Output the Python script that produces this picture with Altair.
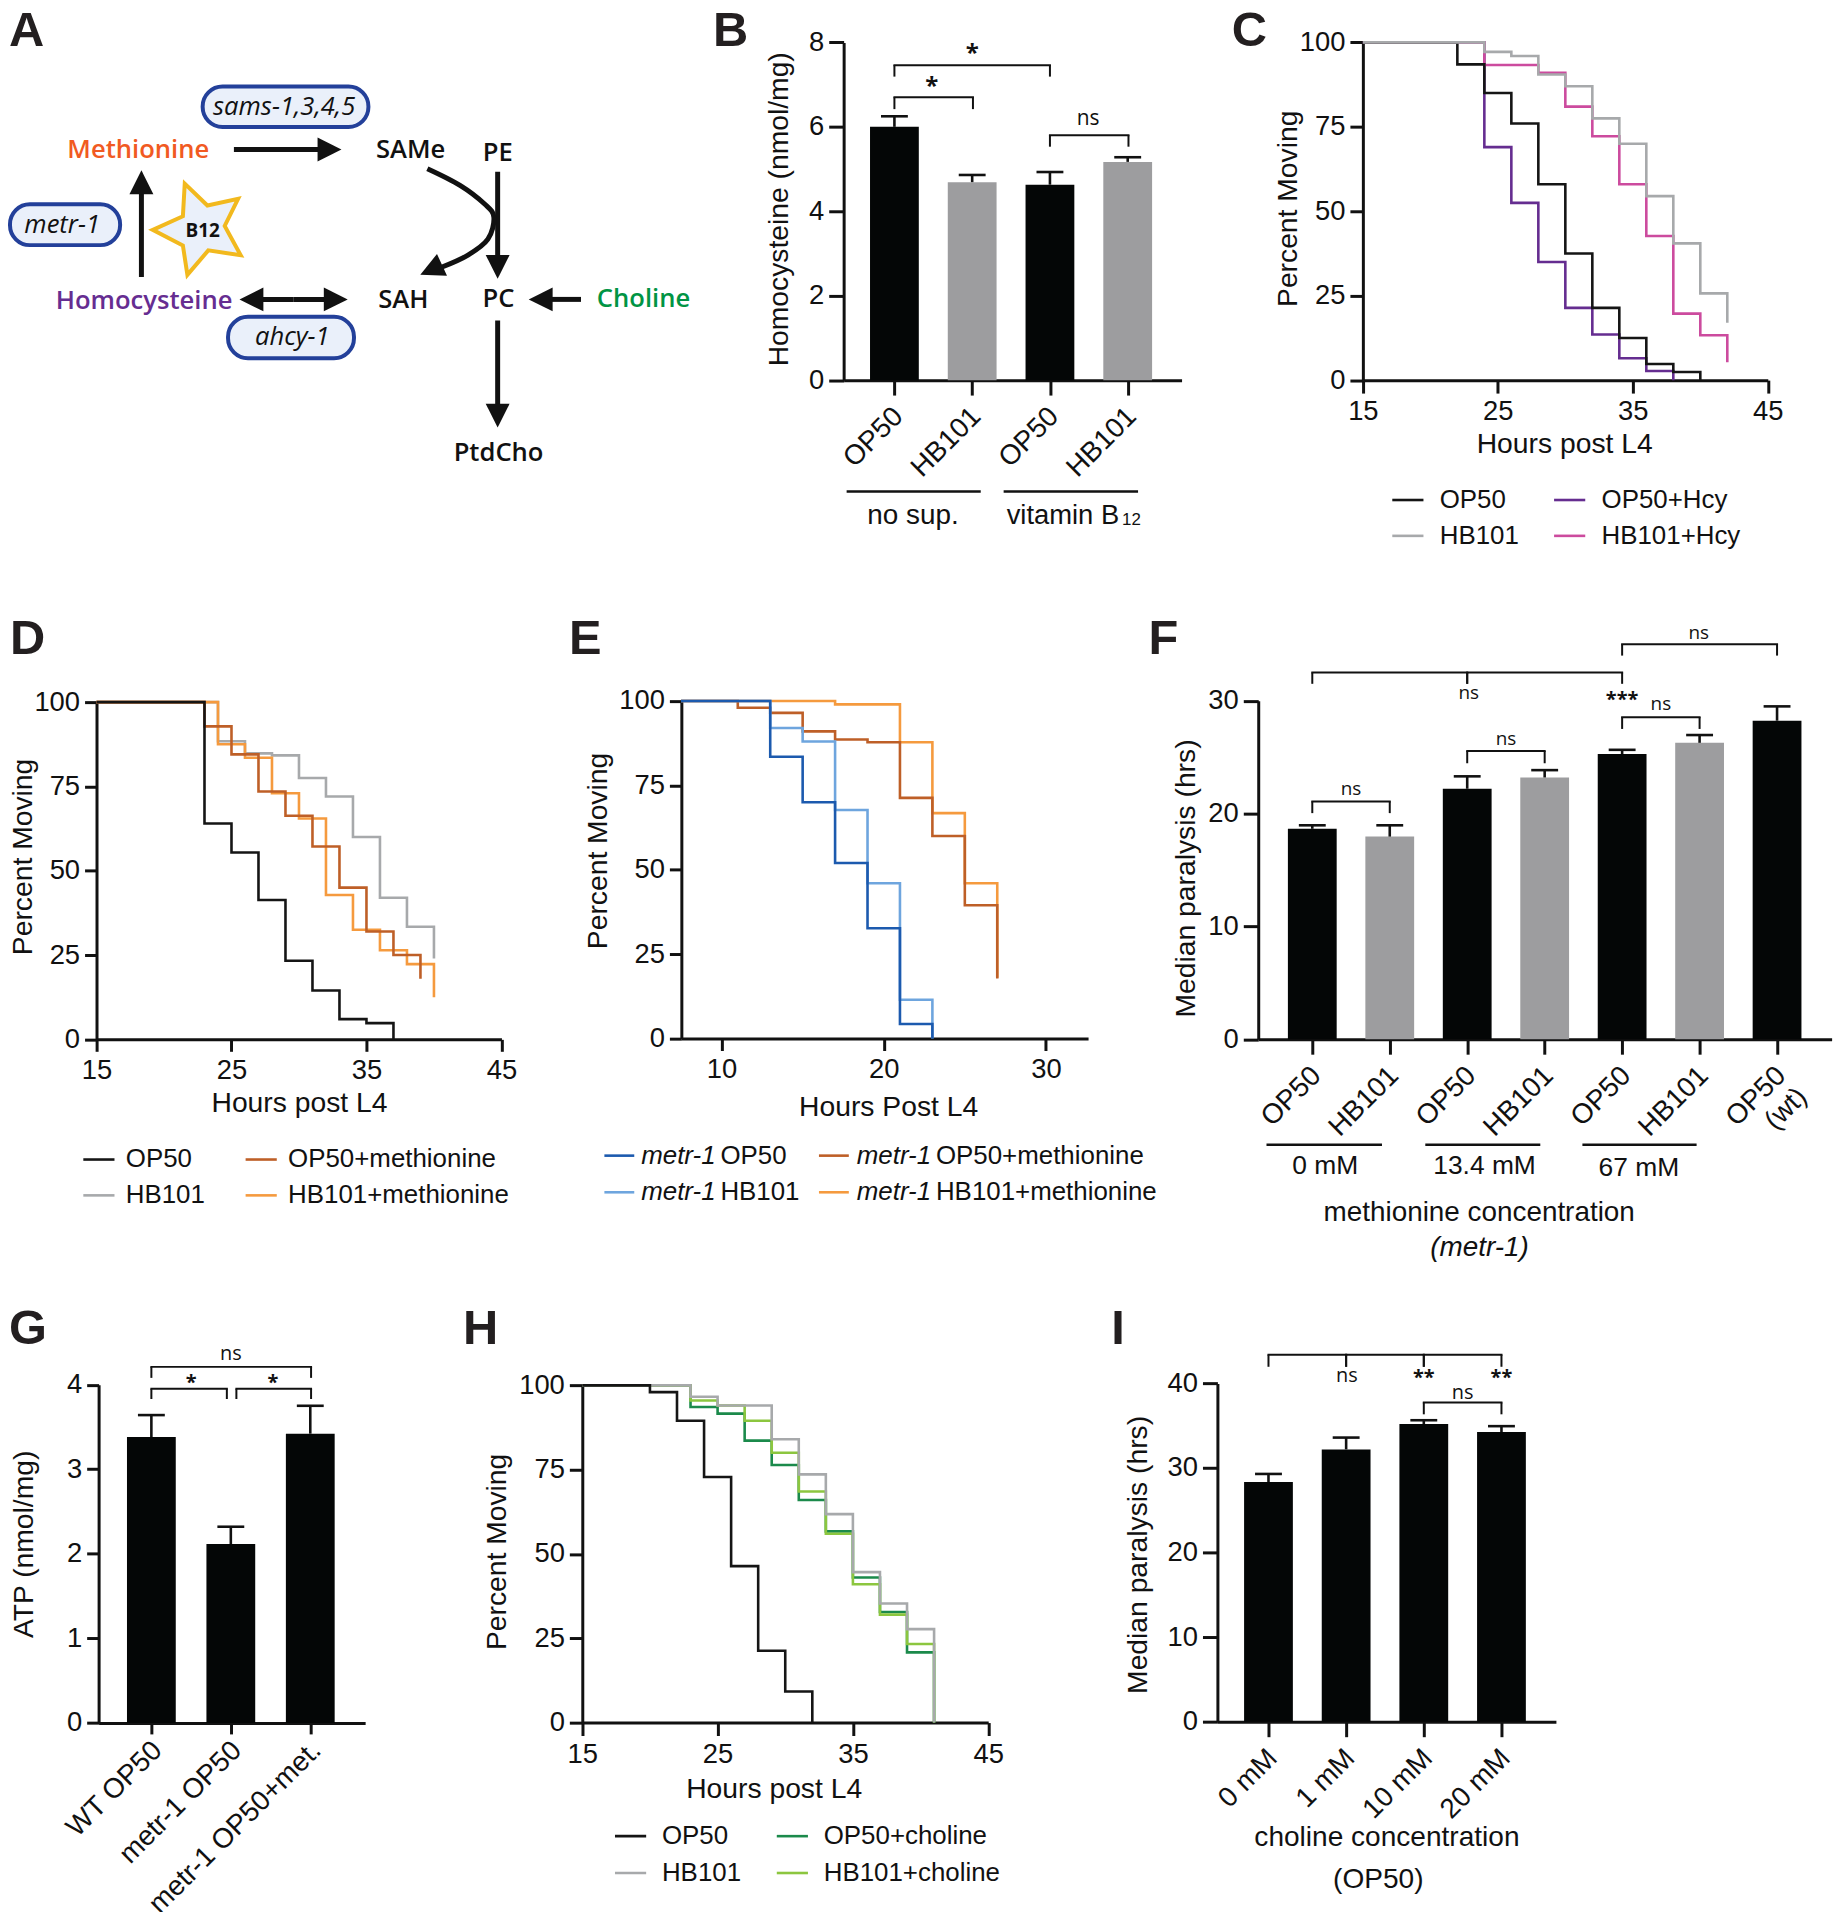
import math
import altair as alt
import pandas as pd

W, H = 1835, 1904
YOFF = 12  # the plot's top edge on the page
ARIAL = "Liberation Sans"
MYRIAD = "Open Sans"
INK = "#111111"

# ---------- panel B ----------
B_LABELS = [["OP50"], ["HB101"], ["OP50"], ["HB101"]]
B_STRAIN = ["OP50", "HB101", "OP50", "HB101"]
B_MEAN = [6.0, 4.69, 4.63, 5.17]
B_ERR = [6.25, 4.86, 4.93, 5.28]
B_BRACKETS = [(0, 2, 7.46, 7.19, 7.19), (0, 1.01, 6.7, 6.42, 6.42), (2, 3.01, 5.8, 5.53, 5.53)]
B_MARKS = [(1.0, 7.72, "*"), (0.48, 6.94, "*"), (2.49, 6.19, "ns")]

# ---------- panel C ----------
C_OP50 = [(15, 100), (22, 93.5), (24, 85), (26, 76), (28, 58), (30, 37.5), (32, 21.4), (34, 12.5), (36, 4.8), (38, 2.4), (40, 0)]
C_HB101 = [(15, 100), (24, 97.2), (26, 96), (28, 90.5), (30, 87), (32, 77.5), (34, 70), (36, 54.5), (38, 40.5), (40, 25.7), (42, 25.7), (42, 17)]
C_OP50_HCY = [(15, 100), (24, 69), (26, 52.5), (28, 35), (30, 21.4), (32, 13.5), (34, 6.5), (36, 2.7), (38, 0)]
C_HB101_HCY = [(15, 100), (24, 93.3), (28, 91), (30, 81), (32, 72.2), (34, 58), (36, 42.7), (38, 19.7), (40, 13.3), (42, 13.3), (42, 5.3)]

# ---------- panel D ----------
D_OP50 = [(15, 100), (23, 64), (25, 55.4), (27, 41.3), (29, 23.3), (31, 14.5), (33, 6), (35, 4.8), (37, 0)]
D_HB101 = [(15, 100), (24, 88.4), (26, 84.8), (28, 84.2), (30, 77.5), (32, 72), (34, 60), (36, 42), (38, 33.4), (40, 33.4), (40, 24)]
D_OP50_MET = [(15, 100), (23, 92.8), (25, 84.5), (27, 73.5), (29, 66.3), (31, 57.2), (33, 45), (35, 32), (37, 25), (39, 25), (39, 18)]
D_HB101_MET = [(15, 100), (24, 87.5), (26, 83.5), (28, 73), (30, 65.5), (32, 42.8), (34, 32.5), (36, 26.4), (38, 22.3), (40, 22.3), (40, 12.5)]

# ---------- panel E ----------
E_OP50 = [(7.5, 100), (13, 83.5), (15, 70), (17, 52), (19, 32.7), (21, 4.3), (23, 0)]
E_HB101 = [(7.5, 100), (13, 92), (15, 88), (17, 67.7), (19, 46), (21, 11.5), (23, 0)]
E_OP50_MET = [(7.5, 100), (11, 98), (13, 96.5), (15, 91), (17, 88.6), (19, 87.8), (21, 71.3), (23, 60), (25, 39.5), (27, 39.5), (27, 17.8)]
E_HB101_MET = [(7.5, 100), (17, 99), (21, 87.8), (23, 66.8), (25, 46), (27, 46), (27, 18)]

# ---------- panel F ----------
F_LABELS = [["OP50"], ["HB101"], ["OP50"], ["HB101"], ["OP50"], ["HB101"], ["OP50", "(wt)"]]
F_STRAIN = ["OP50", "HB101", "OP50", "HB101", "OP50", "HB101", "OP50"]
F_MEAN = [18.65, 17.96, 22.2, 23.2, 25.27, 26.27, 28.23]
F_ERR = [18.96, 18.96, 23.3, 23.85, 25.65, 26.96, 29.5]
F_BRACKETS = [(4, 6, 35, 34, 34), (0, 4, 32.5, 31.5, 31.5), (2, 2, 32.5, 31.5, 31.5), (4, 5, 28.54, 27.5, 27.5), (2, 3, 25.54, 24.46, 24.46), (0, 1, 21.08, 20.04, 20.04)]
F_MARKS = [(4.99, 36, "ns"), (2.02, 30.65, "ns"), (4.0, 30.1, "***"), (4.5, 29.7, "ns"), (2.5, 26.6, "ns"), (0.5, 22.2, "ns")]

# ---------- panel G ----------
G_LABELS = [["WT OP50"], ["metr-1 OP50"], ["metr-1 OP50+met."]]
G_STRAIN = ["OP50", "OP50", "OP50"]
G_MEAN = [3.38, 2.115, 3.42]
G_ERR = [3.64, 2.32, 3.75]
G_BRACKETS = [(0, 2.01, 4.21, 4.08, 4.08), (0, 0.95, 3.95, 3.83, 3.83), (1.07, 2.01, 3.95, 3.83, 3.83)]
G_MARKS = [(1.0, 4.36, "ns"), (0.5, 4.02, "*"), (1.53, 4.02, "*")]

# ---------- panel H ----------
H_OP50 = [(15, 100), (20, 98), (22, 89.5), (24, 72.8), (26, 46.4), (28, 21.3), (30, 9.2), (32, 0)]
H_HB101 = [(15, 100), (23, 96.6), (25, 94), (29, 84), (31, 73.6), (33, 61.8), (35, 44.6), (37, 35.3), (39, 27.7), (41, 0)]
H_OP50_CHO = [(15, 100), (23, 93.6), (25, 91.6), (27, 83.6), (29, 76.4), (31, 66), (33, 56.7), (35, 43), (37, 32.8), (39, 20.8), (41, 0)]
H_HB101_CHO = [(15, 100), (23, 95.5), (25, 94), (27, 89.5), (29, 80), (31, 68.5), (33, 56), (35, 41), (37, 32), (39, 23.3), (41, 0)]

# ---------- panel I ----------
I_LABELS = [["0 mM"], ["1 mM"], ["10 mM"], ["20 mM"]]
I_STRAIN = ["OP50", "OP50", "OP50", "OP50"]
I_MEAN = [28.35, 32.2, 35.2, 34.25]
I_ERR = [29.3, 33.6, 35.65, 34.95]
I_BRACKETS = [(0, 3, 43.4, 41.97, 41.97), (1, 1, 43.4, 41.97, 41.97), (2, 2, 43.4, 41.97, 41.97), (2, 3, 37.75, 36.35, 36.35)]
I_MARKS = [(1.01, 40.9, "ns"), (2.0, 40.6, "**"), (3.0, 40.6, "**"), (2.5, 38.9, "ns")]


def xs(domain, a, b):
    return alt.Scale(domain=domain, range=[a - 8, b - 8], nice=False, zero=False, padding=0)


def ys(domain, bottom, top):
    return alt.Scale(domain=domain, range=[bottom - YOFF, top - YOFF], nice=False, zero=False)


AXIS_STYLE = dict(
    grid=False, domainWidth=3, tickWidth=3, domainColor=INK, tickColor=INK,
    labelFont=ARIAL, labelColor=INK, titleFont=ARIAL, titleFontSize=28.4,
    titleColor=INK, titleFontWeight="normal", labelOverlap=False, labelFlush=False, labelLimit=600,
)


def y_axis(values, x0, y_mid, title, dist, tick=14, pad=5):
    return alt.Axis(orient="left", offset=-(x0 - 8), values=values, title=title, titleX=-dist, titleY=y_mid - YOFF,
                    titleBaseline="middle", titleAngle=270, tickSize=tick, labelPadding=pad, labelFontSize=27.5,
                    format="d", **AXIS_STYLE)


def x_axis_num(values, y0, title, dist, title_x=None, tick=13, pad=5):
    extra = {} if title_x is None else {"titleX": title_x - 8}
    return alt.Axis(orient="bottom", offset=y0 - YOFF - H, values=values, title=title, titleY=dist,
                    titleBaseline="middle", tickSize=tick, labelPadding=pad, labelFontSize=27.5, format="d", **extra,
                    **AXIS_STYLE)


def x_axis_cat(labels, y0, tick=15, pad=17, shift=4):
    expr = "[" + ",".join("[" + ",".join("'%s'" % t for t in lab) + "]" for lab in labels) + "][datum.value]"
    return alt.Axis(orient="bottom", offset=y0 - YOFF - H, values=list(range(len(labels))), title=None,
                    tickSize=tick, labelPadding=pad, labelAngle=315, labelAlign="right", labelFontSize=28,
                    labelBaseline="middle", labelOffset=shift, labelExpr=expr, **AXIS_STYLE)


def bar_panel(labels, strain, mean, err, brackets, marks, c0, step, left, right, y0, y1, ymax, yvalues,
              ytitle, title_dist, title_mid, bar_w=49, ns_size=20, star_size=21, tick=15, ytick=15, ypad=5,
              label_pad=17, label_shift=4):
    xscale = xs([(left - c0) / step, (right - c0) / step], left, right)
    yscale = ys([0, ymax], y0, y1)
    df = pd.DataFrame({"i": list(range(len(mean))), "mean": mean, "err": err, "strain": strain})
    bars = alt.Chart(df).mark_bar(width=bar_w).encode(
        x=alt.X("i:Q", scale=xscale, axis=x_axis_cat(labels, y0, tick=tick, pad=label_pad, shift=label_shift)),
        y=alt.Y("mean:Q", scale=yscale, axis=y_axis(yvalues, left, title_mid, ytitle, title_dist, tick=ytick, pad=ypad)),
        color=alt.Color("strain:N", scale=alt.Scale(domain=["OP50", "HB101"], range=["#040606", "#9D9D9F"]), legend=None),
    )
    x_plain = alt.X("i:Q", scale=xscale)
    stem = alt.Chart(df).mark_rule(strokeWidth=2.6, color=INK).encode(
        x=x_plain, y=alt.Y("mean:Q", scale=yscale), y2="err:Q")
    cap = alt.Chart(df).mark_tick(orient="horizontal", size=27, thickness=2.6, color=INK, opacity=1).encode(
        x=x_plain, y=alt.Y("err:Q", scale=yscale))
    layers = [bars, stem, cap]
    segs_h = pd.DataFrame([{"a": b[0], "b": b[1], "y": b[2]} for b in brackets])
    segs_v = pd.DataFrame([{"a": b[0], "y": b[2], "y2": b[3]} for b in brackets] +
                          [{"a": b[1], "y": b[2], "y2": b[4]} for b in brackets])
    layers.append(alt.Chart(segs_h).mark_rule(strokeWidth=2, color=INK, strokeCap="square").encode(
        x=alt.X("a:Q", scale=xscale), x2="b:Q", y=alt.Y("y:Q", scale=yscale)))
    layers.append(alt.Chart(segs_v).mark_rule(strokeWidth=2, color=INK).encode(
        x=alt.X("a:Q", scale=xscale), y=alt.Y("y:Q", scale=yscale), y2="y2:Q"))
    for mx, my, txt in marks:
        bold = "*" in txt
        layers.append(alt.Chart(pd.DataFrame({"x": [mx], "y": [my], "t": [txt]})).mark_text(
            font=MYRIAD, fontSize=star_size if bold else ns_size, fontWeight="bold" if bold else "normal",
            color=INK, baseline="middle").encode(
            x=alt.X("x:Q", scale=xscale), y=alt.Y("y:Q", scale=yscale), text="t:N"))
    return alt.layer(*layers)


def km_panel(series, colors, legend_order, draw_order, xdomain, left, right, y0, y1, xticks, xtitle, ytitle,
             ydist, title_mid, xdist, legend=None, title_x=None, tick=13, xpad=5):
    xscale = xs(xdomain, left, right)
    yscale = ys([0, 100], y0, y1)
    layers = []
    cscale = alt.Scale(domain=legend_order, range=colors)
    for n, name in enumerate(draw_order):
        df = pd.DataFrame({"h": [p[0] for p in series[name]], "p": [p[1] for p in series[name]], "s": name,
                           "k": list(range(len(series[name])))})
        first = n == 0
        xkw = {"axis": x_axis_num(xticks, y0, xtitle, xdist, title_x, tick=tick, pad=xpad)} if first else {}
        ykw = {"axis": y_axis([0, 25, 50, 75, 100], left, title_mid, ytitle, ydist, tick=tick, pad=5)} if first else {}
        leg = alt.Legend(**legend) if (first and legend) else None
        layers.append(alt.Chart(df).mark_line(interpolate="step-after", strokeWidth=2.6).encode(
            x=alt.X("h:Q", scale=xscale, **xkw),
            y=alt.Y("p:Q", scale=yscale, **ykw),
            color=alt.Color("s:N", scale=cscale, legend=leg),
            order="k:Q"))
    return alt.layer(*layers)


def legend_opts(x, y, offset, pad, row):
    return dict(orient="none", legendX=x - 8, legendY=y - YOFF, columns=2, title=None, symbolType="stroke",
                symbolSize=980, symbolStrokeWidth=2.6, labelFont=ARIAL, labelFontSize=26, labelColor=INK,
                labelOffset=offset, columnPadding=pad, rowPadding=row, labelLimit=500, padding=0)


GRAY, BLACK = "#A7A9AB", "#151515"
panel_b = bar_panel(B_LABELS, B_STRAIN, B_MEAN, B_ERR, B_BRACKETS, B_MARKS,
                    898.3, 78.1, 847.3, 1186.7, 381.6, 42.4, 8, [0, 2, 4, 6, 8],
                    "Homocysteine (nmol/mg)", 65.6, 209.5, ns_size=21, star_size=24)
panel_c = km_panel({"OP50": C_OP50, "HB101": C_HB101, "OP50+Hcy": C_OP50_HCY, "HB101+Hcy": C_HB101_HCY},
                   [BLACK, GRAY, "#652D90", "#CC4B9E"], ["OP50", "HB101", "OP50+Hcy", "HB101+Hcy"],
                   ["OP50+Hcy", "HB101+Hcy", "OP50", "HB101"], [15, 45], 1368.8, 1775.5, 381.6, 42.4,
                   [15, 25, 35, 45], "Hours post L4", "Percent Moving", 76, 209, 64,
                   legend=legend_opts(1397, 485, 15, 29.5, 6), title_x=1571)
panel_d = km_panel({"OP50": D_OP50, "HB101": D_HB101, "OP50+methionine": D_OP50_MET, "HB101+methionine": D_HB101_MET},
                   [BLACK, GRAY, "#BE5F27", "#F59A3E"], ["OP50", "HB101", "OP50+methionine", "HB101+methionine"],
                   ["HB101", "HB101+methionine", "OP50+methionine", "OP50"], [15, 45], 96.9, 503.6, 1043.7, 705,
                   [15, 25, 35, 45], "Hours post L4", "Percent Moving", 74.5, 860, 63.6,
                   legend=legend_opts(82.3, 1147.4, 10, 35, 6), tick=12)
panel_e = km_panel({"metr-1 OP50": E_OP50, "metr-1 HB101": E_HB101, "metr-1 OP50+methionine": E_OP50_MET,
                    "metr-1 HB101+methionine": E_HB101_MET},
                   ["#1C5AAE", "#6EA5DE", "#BE5F27", "#F59A3E"],
                   ["metr-1 OP50", "metr-1 HB101", "metr-1 OP50+methionine", "metr-1 HB101+methionine"],
                   ["metr-1 HB101+methionine", "metr-1 OP50+methionine", "metr-1 HB101", "metr-1 OP50"],
                   [7.52, 32.6], 684.3, 1092.8, 1042.9, 703.9, [10, 20, 30], "Hours Post L4", "Percent Moving",
                   84, 854, 68.4, title_x=892, tick=12)
panel_f = bar_panel(F_LABELS, F_STRAIN, F_MEAN, F_ERR, F_BRACKETS, F_MARKS, 1318, 77.8, 1263.7, 1839.6,
                    1043.6, 703.6, 30, [0, 10, 20, 30], "Median paralysis (hrs)", 73, 881.6, ns_size=19, star_size=20)
panel_g = bar_panel(G_LABELS, G_STRAIN, G_MEAN, G_ERR, G_BRACKETS, G_MARKS, 152, 79.8, 99, 366.7,
                    1730.3, 1390.5, 4, [0, 1, 2, 3, 4], "ATP (nmol/mg)", 75, 1550.4, ns_size=20, star_size=20, tick=11, ytick=12,
                    label_pad=12, label_shift=6)
panel_h = km_panel({"OP50": H_OP50, "HB101": H_HB101, "OP50+choline": H_OP50_CHO, "HB101+choline": H_HB101_CHO},
                   [BLACK, GRAY, "#1B8A4B", "#8CC63F"], ["OP50", "HB101", "OP50+choline", "HB101+choline"],
                   ["OP50+choline", "HB101+choline", "HB101", "OP50"], [15, 45], 584.8, 992.5, 1729.9, 1391.2,
                   [15, 25, 35, 45], "Hours post L4", "Percent Moving", 85.8, 1558, 66,
                   legend=legend_opts(616.3, 1827, 14.5, 30.5, 7), title_x=777)
panel_i = bar_panel(I_LABELS, I_STRAIN, I_MEAN, I_ERR, I_BRACKETS, I_MARKS, 1274, 78.0, 1222.7, 1562.7,
                    1729.1, 1389.3, 40, [0, 10, 20, 30, 40], "Median paralysis (hrs)", 80.7, 1561, ns_size=20, star_size=20)

# ---------- overlay: panel A diagram, panel letters, group captions, E legend ----------
OX = alt.Scale(domain=[0, W + 8], range=[-8, W], nice=False, zero=False)
OY = alt.Scale(domain=[0, H + YOFF], range=[-YOFF, H], nice=False, zero=False)


def ox(f="x"):
    return alt.X(f + ":Q", scale=OX, axis=None)


def oy(f="y"):
    return alt.Y(f + ":Q", scale=OY, axis=None)


def text(x, y, t, size=26, font=ARIAL, weight="normal", style="normal", color=INK, align="center", baseline="middle"):
    return alt.Chart(pd.DataFrame({"x": [x], "y": [y], "t": [t]})).mark_text(
        font=font, fontSize=size, fontWeight=weight, fontStyle=style, color=color, align=align, baseline=baseline
    ).encode(x=ox(), y=oy(), text="t:N")


def hrule(x1, x2, y, width=2.5, color=INK):
    return alt.Chart(pd.DataFrame({"x": [x1], "x2": [x2], "y": [y]})).mark_rule(strokeWidth=width, color=color).encode(
        x=ox(), x2="x2:Q", y=oy())


def pill(x1, x2, y1, y2):
    return alt.Chart(pd.DataFrame({"x": [x1], "x2": [x2], "y": [y1], "y2": [y2]})).mark_rect(
        cornerRadius=20, fill="#EAF0FA", stroke="#23409A", strokeWidth=4).encode(
        x=ox(), x2="x2:Q", y=oy(), y2="y2:Q")


HEAD = "M0,-0.5L0.5,0.5L-0.5,0.5Z"


def head(tipx, tipy, bx, by, size=24):
    ang = math.degrees(math.atan2(tipx - bx, -(tipy - by))) % 360
    return alt.Chart(pd.DataFrame({"x": [(tipx + bx) / 2], "y": [(tipy + by) / 2], "a": [ang]})).mark_point(
        shape=HEAD, size=4 * size * size, filled=True, color=INK, opacity=1, strokeWidth=0).encode(
        x=ox(), y=oy(), angle=alt.Angle("a:Q", scale=None))


def arrow(x1, y1, tipx, tipy, length=21):
    d = math.hypot(tipx - x1, tipy - y1)
    bx, by = tipx - (tipx - x1) / d * length, tipy - (tipy - y1) / d * length
    shaft = alt.Chart(pd.DataFrame({"x": [x1], "x2": [bx], "y": [y1], "y2": [by]})).mark_rule(
        strokeWidth=5, color=INK).encode(x=ox(), x2="x2:Q", y=oy(), y2="y2:Q")
    return [shaft, head(tipx, tipy, bx, by)]


STAR = ("M-11.8,-46.7L11.4,-24.3L42.8,-31L29.1,-3.3L45.5,26.7L12.3,21.7L-9.1,46.7L-13.7,16.7L-44.6,0.7L-13.7,-13.3Z")
CURVE_X = [429.2, 462, 487, 496, 490, 470, 444]
CURVE_Y = [169.3, 186, 205, 218, 240, 256, 268]

ov = []
for xx, yy, t in [(9, 46, "A"), (716, 46, "B"), (1237, 46, "C"), (10, 657, "D"), (571.5, 657, "E"),
                  (1153.5, 657, "F"), (9, 1350, "G"), (465, 1350, "H"), (1116, 1350, "I")]:
    ov.append(text(xx, yy, t, size=49, weight="bold", color="#231F20", align="left", baseline="alphabetic"))

# group captions B
ov += [hrule(850.3, 985, 493.5), hrule(1008, 1143, 493.5),
       text(917, 518, "no sup.", 28), text(1011, 518, "vitamin B", 27.5, align="left"),
       text(1127, 522, "12", 17, align="left")]
# group captions F
ov += [hrule(1272, 1388, 1149.5), hrule(1431.5, 1547, 1149.5), hrule(1589.3, 1704, 1149.5),
       text(1331, 1171, "0 mM", 26.5), text(1491, 1171, "13.4 mM", 26.5), text(1646, 1172.5, "67 mM", 26.5),
       text(1485.6, 1218.5, "methionine concentration", 28), text(1486, 1253, "(metr-1)", 28, style="italic")]
# captions I
ov += [text(1393, 1846, "choline concentration", 28.2), text(1384.3, 1888.3, "(OP50)", 28.2)]

# E legend (italic gene name needs two text runs)
for x0, xt, xr, yy, c, gene_rest in [(607, 644, 723.5, 1160.5, "#1C5AAE", "OP50"),
                                     (607, 644, 723.5, 1197.3, "#6EA5DE", "HB101"),
                                     (822.5, 860.5, 940, 1160.5, "#BE5F27", "OP50+methionine"),
                                     (822.5, 860.5, 940, 1197.3, "#F59A3E", "HB101+methionine")]:
    ov += [hrule(x0, x0 + 30, yy, width=2.6, color=c),
           text(xt, yy, "metr-1", 26, style="italic", align="left"),
           text(xr, yy, gene_rest, 26, align="left")]

# panel A diagram
ov += [pill(203.5, 370, 86.7, 127.3), pill(10, 120.6, 205, 246), pill(229, 355.5, 318, 359.5)]
for a in [(234.9, 150, 341.4, 150), (142, 278, 142, 172.3), (499.8, 172.3, 499.8, 278.3),
          (583.5, 300.5, 532.5, 300.5), (499.8, 321.7, 499.8, 427.7)]:
    ov += arrow(*a)
ov += arrow(295, 300.5, 242, 300.5) + arrow(295, 300.5, 347.7, 300.5)
ov.append(alt.Chart(pd.DataFrame({"x": CURVE_X, "y": CURVE_Y, "k": list(range(len(CURVE_X)))})).mark_line(
    interpolate="cardinal", strokeWidth=5, color=INK).encode(x=ox(), y=oy(), order="k:Q"))
ov.append(head(424, 275, 442, 266.7))
ov.append(alt.Chart(pd.DataFrame({"x": [197.1], "y": [230]})).mark_point(
    shape=STAR, size=3.85, filled=True, fill="#EAF0FA", stroke="#F2B91E", strokeWidth=4, opacity=1).encode(x=ox(), y=oy()))
SEMI = 600
for xx, yy, t, c in [(138.8, 150, "Methionine", "#F15A22"), (412.4, 150, "SAMe", INK), (499.8, 153.5, "PE", INK),
                     (144.7, 302.5, "Homocysteine", "#662D91"), (405, 301.5, "SAH", INK), (500.7, 300.5, "PC", INK),
                     (646.3, 300.5, "Choline", "#009444"), (500.7, 454.5, "PtdCho", INK)]:
    ov.append(text(xx, yy, t, 25.7, font=MYRIAD, weight=SEMI, color=c))
ov.append(text(203.5, 232, "B12", 19, font=MYRIAD, weight="bold"))
for xx, yy, t in [(285.4, 107, "sams-1,3,4,5"), (62.4, 226, "metr-1"), (293.6, 338.5, "ahcy-1")]:
    ov.append(text(xx, yy, t, 25.7, font=MYRIAD, style="italic"))
overlay = alt.layer(*ov)

chart = alt.layer(panel_b, panel_c, panel_d, panel_e, panel_f, panel_g, panel_h, panel_i, overlay).resolve_scale(
    x="independent", y="independent", color="independent"
).resolve_axis(x="independent", y="independent").resolve_legend(color="independent").properties(
    width=W, height=H, padding=0, autosize=alt.AutoSizeParams(type="none")
).configure(background="white", view=alt.ViewConfig(stroke=None))

chart.save("out.html", embed_options={"renderer": "svg", "actions": False})
